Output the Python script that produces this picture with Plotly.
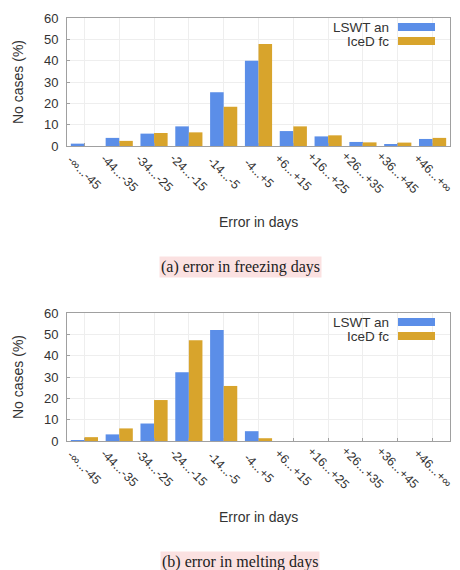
import plotly.graph_objects as go

# Error bins (days)
bins = ["-∞...-45", "-44...-35", "-34...-25", "-24...-15", "-14...-5", "-4...+5",
        "+6...+15", "+16...+25", "+26...+35", "+36...+45", "+46...+∞"]

# Share of cases (%) - freezing days
freeze_lswt = [1.1, 3.8, 5.8, 9.2, 25.2, 40.0, 7.0, 4.5, 1.9, 0.8, 3.3]
freeze_iced = [0.0, 2.4, 6.1, 6.4, 18.4, 47.8, 9.2, 5.0, 1.7, 1.6, 3.8]

# Share of cases (%) - melting days
melt_lswt = [0.3, 3.1, 8.2, 32.2, 52.0, 4.6, 0, 0, 0, 0, 0]
melt_iced = [1.8, 5.9, 19.2, 47.2, 25.8, 1.3, 0, 0, 0, 0, 0]

series_names = ["LSWT an", "IceD fc"]
captions = ["(a) error in freezing days", "(b) error in melting days"]
y_ticks = [0, 10, 20, 30, 40, 50, 60]

BLUE = "#5b8ee8"
GOLD = "#d8a42c"
W, H = 460, 570

fig = go.Figure()

panels = [
    (freeze_lswt, freeze_iced, "x", "y", 18, 146),
    (melt_lswt, melt_iced, "x2", "y2", 313, 441),
]

x_dom = [67 / W, 450 / W]
sans = "Liberation Sans, Arial, sans-serif"
serif = "Liberation Serif, Times New Roman, serif"
TXT = "#333"


def py(px):
    """pixel row from the top -> paper fraction"""
    return 1 - px / H


for i, (a, b, xa, ya, top, bot) in enumerate(panels):
    fig.add_trace(go.Bar(x=bins, y=a, name=series_names[0], marker_color=BLUE,
                         marker_line_width=0, xaxis=xa, yaxis=ya, showlegend=False))
    fig.add_trace(go.Bar(x=bins, y=b, name=series_names[1], marker_color=GOLD,
                         marker_line_width=0, xaxis=xa, yaxis=ya, showlegend=False))
    sfx = "" if i == 0 else str(i + 1)
    fig.update_layout(**{
        "xaxis" + sfx: dict(
            domain=x_dom, anchor=ya, type="category", range=[-0.5, 10.5],
            showticklabels=False,
            showgrid=True, gridcolor="#eeeeee", gridwidth=1,
            showline=True, linecolor="#a0a0a0", linewidth=1, mirror=True,
            ticks="inside", ticklen=3, tickcolor="#a0a0a0", automargin=False,
        ),
        "yaxis" + sfx: dict(
            domain=[py(bot), py(top)], anchor=xa, range=[0, 60], tickvals=y_ticks,
            tickfont=dict(family=sans, size=13, color=TXT), ticklabelstandoff=5,
            showgrid=True, gridcolor="#eeeeee", gridwidth=1, zeroline=False,
            showline=True, linecolor="#a0a0a0", linewidth=1, mirror=True,
            ticks="inside", ticklen=3, tickcolor="#a0a0a0", automargin=False,
        ),
    })

    # rotated category labels, centred below each tick
    for c in bins:
        fig.add_annotation(x=c, y=py(bot + 27), xref=xa, yref="paper",
                           text=c, textangle=45, showarrow=False,
                           xanchor="center", yanchor="middle",
                           font=dict(family=sans, size=12.5, color=TXT))

    # axis titles
    fig.add_annotation(x=18 / W, y=py((top + bot) / 2), xref="paper", yref="paper",
                       text="No cases (%)", textangle=-90, showarrow=False,
                       xanchor="center", yanchor="middle",
                       font=dict(family=sans, size=14, color=TXT))
    fig.add_annotation(x=258 / W, y=py(bot + 76), xref="paper", yref="paper",
                       text="Error in days", showarrow=False,
                       xanchor="center", yanchor="middle",
                       font=dict(family=sans, size=14, color=TXT))
    # caption
    fig.add_annotation(x=240 / W, y=py(bot + 121), xref="paper", yref="paper",
                       text=captions[i], showarrow=False, bgcolor="#fbe1e1",
                       xanchor="center", yanchor="middle", borderpad=1,
                       font=dict(family=serif, size=16, color="#222"))

    # key: label on the left, colour sample on the right
    for k, (name, col) in enumerate(zip(series_names, [BLUE, GOLD])):
        yc = top + 9 + k * 14
        fig.add_annotation(x=390 / W, y=py(yc), xref="paper", yref="paper",
                           xanchor="right", yanchor="middle", text=name, showarrow=False,
                           height=12, borderpad=0,
                           font=dict(family=sans, size=13.5, color=TXT))
        fig.add_shape(type="rect", xref="paper", yref="paper",
                      x0=398 / W, x1=435 / W, y0=py(yc + 4), y1=py(yc - 4),
                      fillcolor=col, line_width=0)

fig.update_layout(
    width=W, height=H, margin=dict(l=0, r=0, t=0, b=0),
    barmode="group", bargap=0.22, bargroupgap=0,
    plot_bgcolor="white", paper_bgcolor="white",
)

fig.write_html("out.html")
